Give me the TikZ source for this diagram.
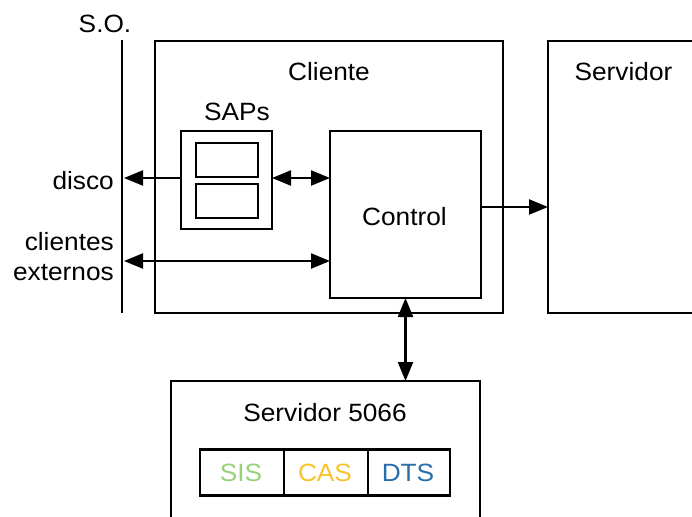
\documentclass[tikz,border=0pt]{standalone}
\usepackage{fontspec}
\setmainfont[FakeStretch=1.05]{Liberation Sans}
\usetikzlibrary{arrows.meta}
\definecolor{sisgreen}{RGB}{150,210,120}
\definecolor{casyellow}{RGB}{250,195,45}
\definecolor{dtsblue}{RGB}{40,110,170}
\begin{document}
\begin{tikzpicture}[x=1pt,y=1pt,
  font=\fontsize{25}{30}\selectfont,
  blk/.style={draw, line width=2.2pt, inner sep=0pt, outer sep=0pt},
  lbl/.style={inner sep=0pt, anchor=base},
  rlbl/.style={inner sep=0pt, anchor=base east},
  arr/.style={line width=2.2pt, -{Triangle[length=19pt,width=15pt]}},
  darr/.style={line width=2.2pt, {Triangle[length=19pt,width=15pt]}-{Triangle[length=19pt,width=15pt]}}]
\useasboundingbox (0,0) rectangle (692,-516);
\clip (0,0) rectangle (692,-516);

% operating system boundary
\coordinate (soT) at (122,-40);
\coordinate (soB) at (122,-313);
\draw[line width=2.2pt] (soT) -- (soB);
\node[lbl] (so) at (105,-33) {S.O.};

% client and server blocks
\node[blk, minimum width=348pt, minimum height=272pt] (cliente) at (329,-177) {};
\node[lbl] (clienteT) at (329,-81) {Cliente};
\node[blk, minimum width=172pt, minimum height=272pt] (servidor) at (634,-177) {};
\node[lbl] (servidorT) at (623.5,-81) {Servidor};

% service access points
\node[blk, minimum width=91pt, minimum height=98pt] (saps) at (226.5,-180) {};
\node[blk, minimum width=62pt, minimum height=34pt] (sap1) at (227,-160) {};
\node[blk, minimum width=62pt, minimum height=34pt] (sap2) at (227,-201) {};
\node[lbl] (sapsT) at (237,-121) {SAPs};

% control unit
\node[blk, minimum width=151pt, minimum height=167pt] (control) at (405.5,-214.5) {};
\node[lbl] (controlT) at (404.5,-225) {Control};

% server 5066 with its services
\node[blk, minimum width=309pt, minimum height=159pt] (s5066) at (325.5,-460.5) {};
\node[lbl] (s5066T) at (325,-421.5) {Servidor 5066};
\node[blk, minimum width=84pt, minimum height=46pt] (sis) at (242,-472.5) {};
\node[blk, minimum width=84pt, minimum height=46pt] (cas) at (326,-472.5) {};
\node[blk, minimum width=82pt, minimum height=46pt] (dts) at (409,-472.5) {};
\node[lbl, text=sisgreen] (sisT) at (241,-481.5) {SIS};
\node[lbl, text=casyellow] (casT) at (325,-481.5) {CAS};
\node[lbl, text=dtsblue] (dtsT) at (408,-481.5) {DTS};

% external labels
\node[rlbl] (disco) at (114,-189.5) {disco};
\node[rlbl] (clientes) at (114,-250.5) {clientes};
\node[rlbl] (externos) at (114,-280.5) {externos};

% connectors
\coordinate (dk) at (124,-178);
\coordinate (ce) at (124,-261);
\coordinate (cs) at (481,-207);
\draw[arr] (saps.west |- dk) -- (dk);
\draw[darr] (saps.east |- dk) -- (control.west |- dk);
\draw[darr] (ce) -- (control.west |- ce);
\draw[arr] (control.east |- cs) -- (servidor.west |- cs);
\draw[darr] (control.south) -- (control.south |- s5066.north);
\end{tikzpicture}
\end{document}
